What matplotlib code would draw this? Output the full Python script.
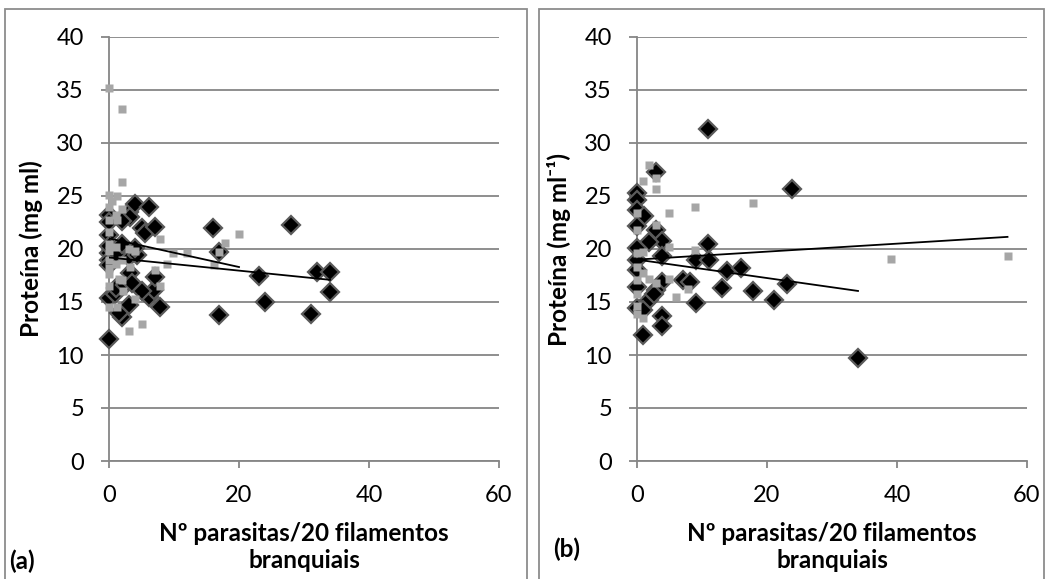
import numpy as np
import matplotlib
matplotlib.use("Agg")
import matplotlib.pyplot as plt
from matplotlib.patches import Rectangle

plt.rcParams['font.family'] = ['Lato', 'DejaVu Sans']

# ---- dados ------------------------------------------------------------
# painel (a)
a_preto_x = [0, 0, 0, 0, 0, 0, 0, 0, 0, 0.9, 1, 2, 2.5, 3, 3, 3.2, 3.2, 3, 4, 4.3,
             4, 5.1, 5.6, 6.1, 6.1, 6.9, 7.1, 7.1, 7.9, 1, 2, 3.5, 16, 16.9, 16.9,
             23, 24, 28, 31, 32, 34, 34, 5, 2, 1.5]
a_preto_y = [23.2, 21.3, 19.6, 19.0, 18.5, 15.4, 11.5, 20.3, 22.5, 15.8, 16.3, 13.6,
             16.6, 14.7, 23.5, 23.0, 17.7, 19.2, 24.2, 19.4, 20.1, 22.0, 21.5, 24.0,
             15.5, 16.1, 22.1, 17.4, 14.5, 19.5, 20.5, 16.8, 22.0, 19.7, 13.8, 17.5,
             15.0, 22.3, 13.9, 17.8, 17.8, 15.9, 16.0, 22.6, 14.0]
a_cinza_x = [0, 2, 2, 0, 0.5, 1.2, 2, 0, 0, 0, 1.2, 0, 0, 0, 0, 0, 0, 0, 1.2, 1, 1,
             1.5, 2, 2, 2.2, 3.2, 3, 4, 5.1, 7.1, 7.9, 7.9, 8.9, 9.9, 12, 16.1, 16.9,
             17.9, 20, 3, 4, 1]
a_cinza_y = [35.2, 33.2, 26.3, 25.1, 24.5, 25.0, 23.8, 22.7, 24.0, 21.6, 22.7, 20.5,
             19.8, 19.0, 18.2, 17.6, 16.5, 14.5, 14.5, 20.2, 18.6, 17.2, 19.0, 17.1,
             16.0, 18.3, 12.3, 15.3, 12.9, 18.0, 16.5, 20.9, 18.6, 19.6, 19.6, 18.5,
             19.7, 20.6, 21.4, 20.0, 19.8, 23.2]
# linhas de tendencia (intercepto, declive, x final)
a_tend_preto = (19.2, -0.062, 34)
a_tend_cinza = (21.0, -0.135, 20)

# painel (b)
b_preto_x = [10.9, 23.9, 2.9, 0, 0, 0, 1.1, 0, 2.9, 3.9, 1.9, 10.9, 3.9, 9.0, 11.0,
             13.8, 16.0, 23.0, 13.1, 17.9, 21.0, 9.0, 7.0, 8.2, 3.9, 2.9, 1.9, 0,
             3.9, 3.9, 0.9, 0.9, 0, 0, 0, 0, 2.6, 34]
b_preto_y = [31.3, 25.7, 27.3, 25.3, 24.6, 23.7, 23.1, 22.2, 21.8, 20.8, 20.7, 20.5,
             19.3, 19.0, 19.0, 17.9, 18.2, 16.7, 16.3, 16.0, 15.2, 14.9, 17.1, 16.9,
             16.9, 16.1, 15.2, 14.4, 13.7, 12.7, 11.9, 14.2, 18.0, 19.0, 20.1, 16.4,
             15.8, 9.7]
b_cinza_x = [1.9, 0.9, 2.9, 2.9, 0, 4.9, 8.9, 17.9, 0, 2.9, 4.9, 8.9, 0, 0.9, 0, 0.9,
             1.9, 2.9, 4.9, 7.9, 6.0, 0, 0, 0.9, 0, 0, 39, 57]
b_cinza_y = [27.9, 26.4, 26.7, 25.7, 23.4, 23.4, 24.0, 24.3, 21.8, 22.3, 20.2, 19.9,
             19.6, 19.7, 18.3, 17.7, 17.2, 16.8, 17.2, 16.2, 15.5, 15.8, 14.6, 13.5,
             13.9, 17.1, 19.1, 19.3]
b_tend_preto = (19.0, -0.087, 34)
b_tend_cinza = (19.0, 0.0376, 57)

# ---- figura ------------------------------------------------------------
W, H = 1047, 579
fig = plt.figure(figsize=(W / 100, H / 100), dpi=100, facecolor="white")

cinza_eixo = "#868686"

def painel(left_px, px, py, cx, cy, tp, tc, ylab, letra, letra_xy):
     ax = fig.add_axes([left_px / W, 1 - 461 / H, 390 / W, (461 - 37) / H])
     ax.set_xlim(0, 60)
     ax.set_ylim(0, 40)
     ax.set_xticks([0, 20, 40, 60])
     ax.set_yticks(np.arange(0, 41, 5))
     ax.grid(axis="y", color=cinza_eixo, lw=1.3)
     ax.set_axisbelow(True)
     for s in ["top", "right"]:
          ax.spines[s].set_visible(False)
     for s in ["left", "bottom"]:
          ax.spines[s].set_color(cinza_eixo)
          ax.spines[s].set_linewidth(1.3)
     ax.tick_params(axis="y", direction="out", length=6, width=1.3, color=cinza_eixo,
                    labelsize=17, pad=12)
     ax.tick_params(axis="x", direction="out", length=5, width=1.3, color=cinza_eixo,
                    labelsize=17, pad=12)
     ax.plot(px, py, "D", ms=9.5, mfc="black", mec="#5a5a5a", mew=1.6, clip_on=False, zorder=3)
     ax.plot(cx, cy, "s", ms=6, mfc="#a6a6a6", mec="none", clip_on=False, zorder=4)
     for b0, b1, xf in (tp, tc):
          xs = np.array([0, xf])
          ax.plot(xs, b0 + b1 * xs, color="black", lw=1.3, zorder=5)
     ax.set_ylabel(ylab, fontsize=17.5, fontweight="bold")
     ax.yaxis.set_label_coords(-0.17, 0.5)
     ax.set_xlabel("Nº parasitas/20 filamentos\nbranquiais", fontsize=17.5,
                   fontweight="bold", linespacing=1.2)
     ax.xaxis.set_label_coords(0.5, -0.145)
     fig.text(letra_xy[0] / W, 1 - letra_xy[1] / H, letra, fontsize=17.5,
              fontweight="bold", ha="left", va="center")
     return ax

painel(109, a_preto_x, a_preto_y, a_cinza_x, a_cinza_y, a_tend_preto, a_tend_cinza,
       "Proteína (mg ml)", "(a)", (9, 561))
painel(637, b_preto_x, b_preto_y, b_cinza_x, b_cinza_y, b_tend_preto, b_tend_cinza,
       "Proteína (mg ml⁻¹)", "(b)", (553, 549))

# molduras dos paineis
for x0, x1 in ((5, 527), (539, 1044)):
     fig.add_artist(Rectangle((x0 / W, -0.05), (x1 - x0) / W, 1.05 - 9 / H,
                              transform=fig.transFigure, fill=False,
                              edgecolor="#8c8c8c", lw=1.3))

fig.savefig("out.png", dpi=100)
